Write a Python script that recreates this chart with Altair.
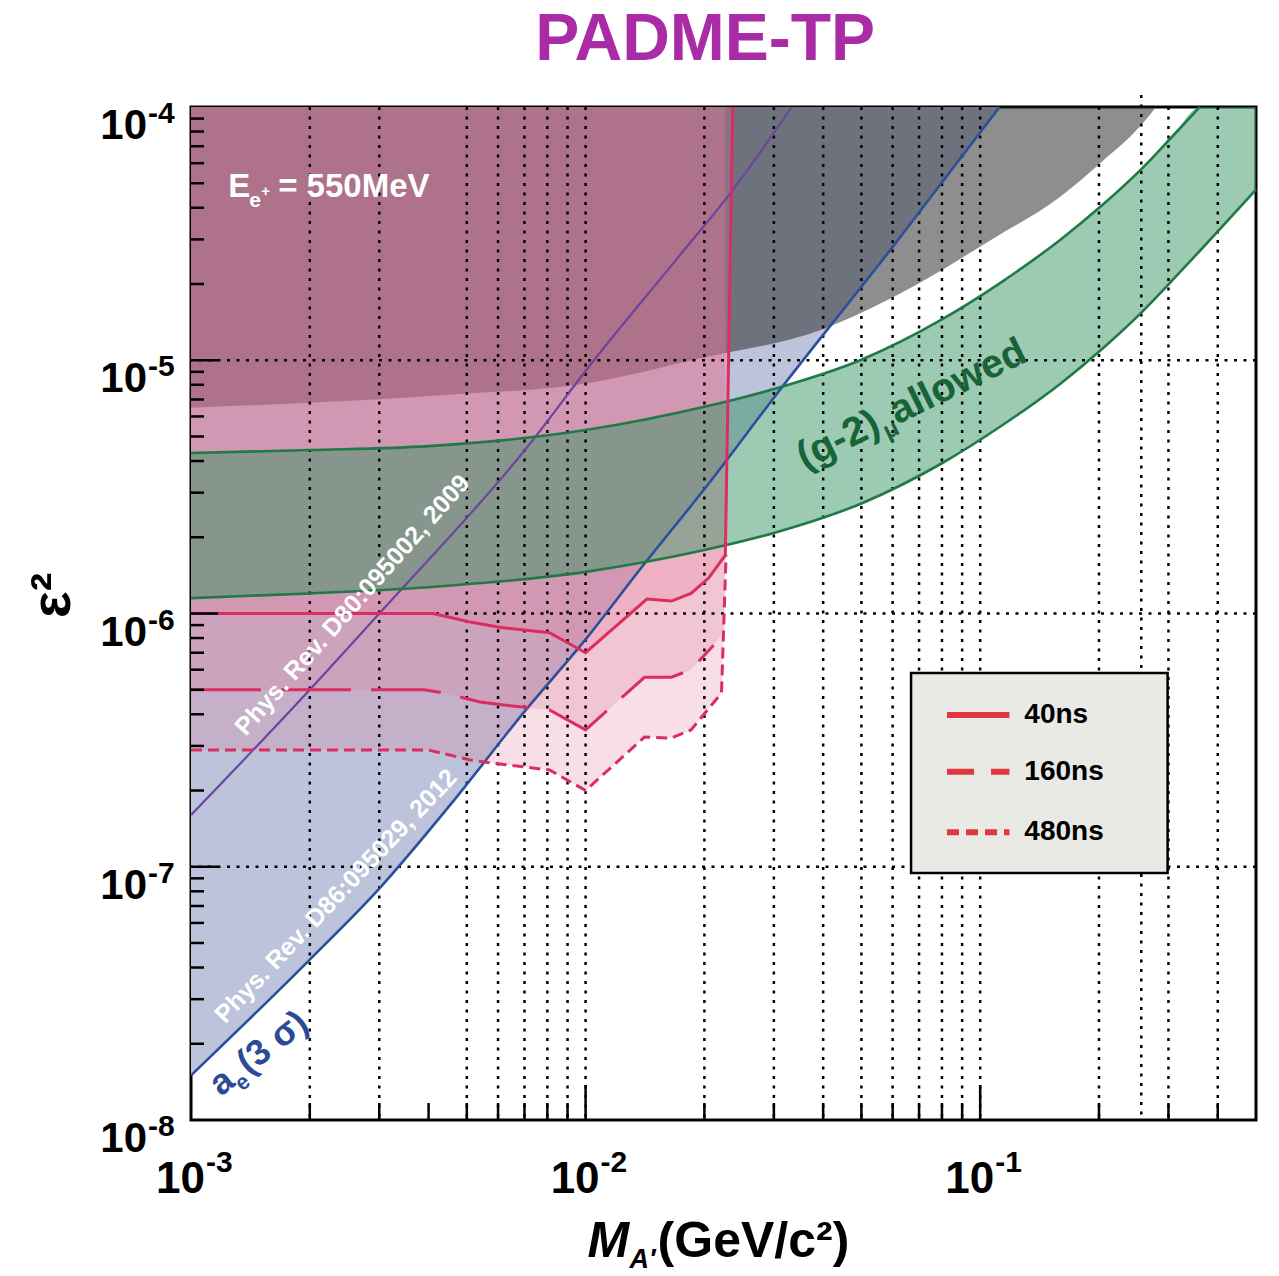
import altair as alt
import pandas as pd

FONT = "Liberation Sans"
W, H = 1065, 1013

# ---------------------------------------------------------------- data
# a_e (3 sigma) bound, Phys. Rev. D86:095029, 2012 (excluded above)
ae_mass = [1.0e-3, 2.0e-3, 3.0e-3, 4.6e-3, 7.0e-3, 1.0e-2, 1.4e-2, 2.0e-2, 3.1e-2, 6.0e-2, 0.112]
ae_eps2 = [1.5e-8, 4.3e-8, 8.2e-8, 1.8e-7, 4.1e-7, 7.9e-7, 1.55e-6, 3.1e-6, 7.6e-6, 2.8e-5, 1.0e-4]

# Phys. Rev. D80:095002, 2009
pv_mass = [1.0e-3, 2.0e-3, 3.0e-3, 7.0e-3, 1.05e-2, 1.72e-2, 2.36e-2, 3.33e-2]
pv_eps2 = [1.6e-7, 5.0e-7, 1.0e-6, 4.4e-6, 1.0e-5, 2.56e-5, 4.7e-5, 1.0e-4]

# (g-2)_mu excluded region (grey), lower edge
gm_mass = [1e-3, 4.5e-3, 1e-2, 1.97e-2, 3.96e-2, 6.34e-2, 0.107, 0.159, 0.204, 0.258, 0.279]
gm_eps2 = [6.5e-6, 7.3e-6, 8.1e-6, 1.02e-5, 1.32e-5, 1.85e-5, 3.0e-5, 4.4e-5, 6.1e-5, 8.6e-5, 1.0e-4]

# (g-2)_mu allowed band
g2_mass = [1e-3, 2e-3, 4e-3, 1e-2, 2e-2, 3e-2, 5e-2, 8e-2, 0.114, 0.16, 0.204, 0.258, 0.308, 0.36, 0.43, 0.5]
g2_upper = [4.3e-6, 4.42e-6, 4.58e-6, 5.3e-6, 6.55e-6, 7.7e-6, 1.005e-5, 1.45e-5, 2.05e-5, 3.0e-5,
            4.1e-5, 5.75e-5, 7.7e-5, 1.0e-4, 1.0e-4, 1.0e-4]
g2_lower = [1.15e-6, 1.2e-6, 1.27e-6, 1.46e-6, 1.78e-6, 2.08e-6, 2.72e-6, 3.92e-6, 5.55e-6, 8.1e-6,
            1.11e-5, 1.56e-5, 2.08e-5, 2.7e-5, 3.65e-5, 4.72e-5]
g2_upper_visible = 14  # points of the upper edge inside the frame

# PADME sensitivity, E_e+ = 550 MeV
t40_mass = [1.0e-3, 4.1e-3, 5.1e-3, 6.1e-3, 8.1e-3, 1.0e-2, 1.43e-2, 1.65e-2, 1.85e-2, 2.05e-2, 2.26e-2, 2.36e-2]
t40_eps2 = [1.0e-6, 1.0e-6, 9.25e-7, 8.8e-7, 8.4e-7, 7.0e-7, 1.14e-6, 1.12e-6, 1.2e-6, 1.38e-6, 1.7e-6, 1.0e-4]

t160_mass = [1.0e-3, 3.9e-3, 4.4e-3, 5.4e-3, 6.2e-3, 8.1e-3, 1.0e-2, 1.41e-2, 1.65e-2, 1.85e-2, 2.11e-2, 2.25e-2]
t160_eps2 = [5.0e-7, 5.0e-7, 4.85e-7, 4.47e-7, 4.35e-7, 4.16e-7, 3.47e-7, 5.6e-7, 5.6e-7, 6.0e-7, 7.5e-7, 8.6e-7]

t480_mass = [1.0e-3, 4.0e-3, 5.1e-3, 5.75e-3, 8.1e-3, 1.0e-2, 1.41e-2, 1.65e-2, 1.85e-2, 2.21e-2, 2.27e-2]
t480_eps2 = [2.89e-7, 2.89e-7, 2.64e-7, 2.57e-7, 2.41e-7, 2.0e-7, 3.25e-7, 3.22e-7, 3.47e-7, 4.85e-7, 1.7e-6]

legend_labels = ["40ns", "160ns", "480ns"]

# axis structure
x_decades = [1e-3, 1e-2, 1e-1]
x_decade_exp = ["-3", "-2", "-1"]
y_decades = [1e-4, 1e-5, 1e-6, 1e-7, 1e-8]
y_decade_exp = ["-4", "-5", "-6", "-7", "-8"]
x_minor_ticks = [0.002, 0.003, 0.004, 0.005, 0.006, 0.007, 0.008, 0.009,
                 0.02, 0.03, 0.04, 0.05, 0.06, 0.07, 0.08, 0.09, 0.2, 0.3, 0.4]
x_major_ticks = [0.01, 0.1]
y_minor_ticks = [2e-8, 3e-8, 4e-8, 5e-8, 6e-8, 7e-8, 8e-8, 9e-8,
                 2e-7, 3e-7, 4e-7, 5e-7, 6e-7, 7e-7, 8e-7, 9e-7,
                 2e-6, 3e-6, 4e-6, 5e-6, 6e-6, 7e-6, 8e-6, 9e-6,
                 2e-5, 3e-5, 4e-5, 5e-5, 6e-5, 7e-5, 8e-5, 9e-5]
y_major_ticks = [1e-7, 1e-6, 1e-5]
x_grid = [0.002, 0.003, 0.005, 0.006, 0.007, 0.008, 0.009, 0.01,
          0.02, 0.03, 0.04, 0.05, 0.06, 0.07, 0.08, 0.09, 0.1, 0.2, 0.3, 0.4]
x_grid_extra = [0.256]
y_grid = [1e-5, 1e-6, 1e-7]

# ---------------------------------------------------------------- helpers
XS = alt.Scale(type="log", domain=[1e-3, 0.5], nice=False)
YS = alt.Scale(type="log", domain=[1e-8, 1e-4], nice=False)


def xf(f):
    return alt.X(f, type="quantitative", scale=XS, axis=None)


def yf(f):
    return alt.Y(f, type="quantitative", scale=YS, axis=None)


def xd(v):
    return alt.XDatum(v, type="quantitative", scale=XS, axis=None)


def yd(v):
    return alt.YDatum(v, type="quantitative", scale=YS, axis=None)


def curve(m, e):
    return pd.DataFrame({"m": m, "e": e, "i": list(range(len(m)))})


ONE = alt.Data(values=[{}])


def note(text, m, e, **kw):
    kw.setdefault("font", FONT)
    kw.setdefault("fontWeight", "bold")
    kw.setdefault("baseline", "alphabetic")
    return alt.Chart(ONE).mark_text(text=text, **kw).encode(x=xd(m), y=yd(e))


TOP = alt.Y2Datum(1e-4)
layers = []

# ---------------------------------------------------------------- filled regions
layers.append(alt.Chart(curve(ae_mass, ae_eps2)).mark_area(
    fill="#bcc3da", interpolate="monotone", orient="vertical").encode(x=xf("m"), y=yf("e"), y2=TOP))
layers.append(alt.Chart(curve(gm_mass, gm_eps2)).mark_area(
    fill="#2a2a2a", fillOpacity=0.53, interpolate="monotone", orient="vertical").encode(
    x=xf("m"), y=yf("e"), y2=TOP))
for m, e in [(t480_mass, t480_eps2), (t160_mass, t160_eps2), (t40_mass, t40_eps2)]:
    layers.append(alt.Chart(curve(m, e)).mark_area(
        fill="#e27597", fillOpacity=0.24, orient="vertical").encode(x=xf("m"), y=yf("e"), y2=TOP))
g2 = pd.DataFrame({"m": g2_mass, "lo": g2_lower, "hi": g2_upper})
layers.append(alt.Chart(g2).mark_area(
    fill="#3b9567", fillOpacity=0.5, interpolate="monotone", orient="vertical").encode(
    x=xf("m"), y=yf("lo"), y2=alt.Y2("hi")))

# ---------------------------------------------------------------- grid
grid_style = dict(color="black", strokeDash=[3, 6.5], strokeWidth=2.5)
layers.append(alt.Chart(pd.DataFrame({"m": x_grid})).mark_rule(**grid_style).encode(x=xf("m")))
layers.append(alt.Chart(pd.DataFrame({"m": x_grid_extra})).mark_rule(**grid_style).encode(
    x=xf("m"), y=alt.value(-12), y2=alt.value(H)))
layers.append(alt.Chart(pd.DataFrame({"e": y_grid})).mark_rule(**grid_style).encode(y=yf("e")))

# ---------------------------------------------------------------- curves
layers.append(alt.Chart(curve(ae_mass, ae_eps2)).mark_line(
    color="#2c4f9c", strokeWidth=2.6, interpolate="monotone").encode(x=xf("m"), y=yf("e")))
layers.append(alt.Chart(curve(pv_mass, pv_eps2)).mark_line(
    color="#6c449e", strokeWidth=2.2, interpolate="monotone").encode(x=xf("m"), y=yf("e")))
layers.append(alt.Chart(curve(g2_mass[:g2_upper_visible], g2_upper[:g2_upper_visible])).mark_line(
    color="#1f7a45", strokeWidth=2.6, interpolate="monotone").encode(x=xf("m"), y=yf("e")))
layers.append(alt.Chart(curve(g2_mass, g2_lower)).mark_line(
    color="#1f7a45", strokeWidth=2.6, interpolate="monotone").encode(x=xf("m"), y=yf("e")))
RED = "#dc2d63"
layers.append(alt.Chart(curve(t40_mass, t40_eps2)).mark_line(color=RED, strokeWidth=3).encode(
    x=xf("m"), y=yf("e"), order=alt.Order("i:Q")))
layers.append(alt.Chart(curve(t160_mass[:-1], t160_eps2[:-1])).mark_line(
    color=RED, strokeWidth=3, strokeDash=[70, 20]).encode(x=xf("m"), y=yf("e"), order=alt.Order("i:Q")))
layers.append(alt.Chart(curve(t480_mass, t480_eps2)).mark_line(
    color=RED, strokeWidth=3, strokeDash=[11, 6]).encode(x=xf("m"), y=yf("e"), order=alt.Order("i:Q")))

# ---------------------------------------------------------------- annotations
layers.append(note("E", 1.242e-3, 4.41e-5, fontSize=33, color="white", align="left"))
layers.append(note("e", 1.242e-3, 4.41e-5, fontSize=21, color="white", align="left", dx=21, dy=10))
layers.append(note("+", 1.242e-3, 4.41e-5, fontSize=15, color="white", align="left", dx=33, dy=-1))
layers.append(note("= 550MeV", 1.242e-3, 4.41e-5, fontSize=33, color="white", align="left", dx=50))

layers.append(note("Phys. Rev. D80:095002, 2009", 2.566e-3, 1.081e-6, fontSize=25, color="white",
                   align="center", baseline="middle", angle=311.7))
layers.append(note("Phys. Rev. D86:095029, 2012", 2.33e-3, 7.66e-8, fontSize=25, color="white",
                   align="center", baseline="middle", angle=313.5))

AE = "#2a4c98"
ae_anchor = (1.19e-3, 1.233e-8)
layers.append(note("a", *ae_anchor, fontSize=36, color=AE, align="left", angle=322))
layers.append(note("e", *ae_anchor, fontSize=22, color=AE, align="left", angle=322, dx=20, dy=9))
layers.append(note("(3 σ)", *ae_anchor, fontSize=36, color=AE, align="left", angle=322, dx=35))

GT = "#196437"
g2_anchor = (3.591e-2, 3.686e-6)
layers.append(note("(g-2)", *g2_anchor, fontSize=40, color=GT, align="left", angle=334))
layers.append(note("μ", *g2_anchor, fontSize=24, color=GT, align="left", angle=334, dx=88, dy=9))
layers.append(note("allowed", *g2_anchor, fontSize=40, color=GT, align="left", angle=334, dx=103))

# ---------------------------------------------------------------- legend
layers.append(alt.Chart(ONE).mark_rect(fill="#e9e9e5", stroke="black", strokeWidth=2.5).encode(
    x=xd(0.0668), x2=alt.X2Datum(0.2985), y=yd(5.82e-7), y2=alt.Y2Datum(9.44e-8)))
legend_rows = [3.97e-7, 2.37e-7, 1.37e-7]
legend_dash = [[1, 0], [27, 17], [12, 7]]
for lab, row, dash in zip(legend_labels, legend_rows, legend_dash):
    layers.append(alt.Chart(ONE).mark_rule(color="#e0383f", strokeWidth=6, strokeDash=dash).encode(
        x=xd(0.0824), x2=alt.X2Datum(0.1186), y=yd(row)))
    layers.append(note(lab, 0.1294, row, fontSize=28, color="black", align="left", baseline="middle"))

# ---------------------------------------------------------------- ticks (inside the frame)
tick_style = dict(color="black", strokeWidth=2.5)
layers.append(alt.Chart(pd.DataFrame({"m": x_minor_ticks})).mark_rule(**tick_style).encode(
    x=xf("m"), y=alt.value(H), y2=alt.value(H - 17)))
layers.append(alt.Chart(pd.DataFrame({"m": x_major_ticks})).mark_rule(**tick_style).encode(
    x=xf("m"), y=alt.value(H), y2=alt.value(H - 35)))
layers.append(alt.Chart(pd.DataFrame({"e": y_minor_ticks})).mark_rule(**tick_style).encode(
    y=yf("e"), x=alt.value(0), x2=alt.value(13)))
layers.append(alt.Chart(pd.DataFrame({"e": y_major_ticks})).mark_rule(**tick_style).encode(
    y=yf("e"), x=alt.value(0), x2=alt.value(27)))

# ---------------------------------------------------------------- tick labels
xl = pd.DataFrame({"m": x_decades, "exp": x_decade_exp})
layers.append(alt.Chart(xl).mark_text(text="10", font=FONT, fontWeight="bold", fontSize=44,
                                      align="right", baseline="alphabetic", dx=14, dy=73).encode(
    x=xf("m"), y=yd(1e-8)))
layers.append(alt.Chart(xl).mark_text(font=FONT, fontWeight="bold", fontSize=30,
                                      align="left", baseline="alphabetic", dx=15, dy=52).encode(
    x=xf("m"), y=yd(1e-8), text=alt.Text("exp:N")))
yl = pd.DataFrame({"e": y_decades, "exp": y_decade_exp})
layers.append(alt.Chart(yl).mark_text(text="10", font=FONT, fontWeight="bold", fontSize=42,
                                      align="right", baseline="alphabetic", dx=-44, dy=32).encode(
    x=xd(1e-3), y=yf("e")))
layers.append(alt.Chart(yl).mark_text(font=FONT, fontWeight="bold", fontSize=30,
                                      align="left", baseline="alphabetic", dx=-43, dy=16).encode(
    x=xd(1e-3), y=yf("e"), text=alt.Text("exp:N")))

# ---------------------------------------------------------------- axis titles and title
layers.append(note("M", 1e-2, 1e-8, fontSize=50, fontStyle="italic", color="black", align="left", dx=2, dy=137))
layers.append(note("A′", 1e-2, 1e-8, fontSize=27, fontStyle="italic", color="black", align="left", dx=44, dy=148))
layers.append(note("(GeV/c²)", 1e-2, 1e-8, fontSize=50, color="black", align="left", dx=72, dy=137))
layers.append(note("ε²", 1e-3, 1.18e-6, fontSize=56, color="black", align="center", angle=270, dy=-121))
layers.append(note("PADME-TP", 0.0201, 1e-4, fontSize=66, color="#aa2ba6", align="center", dy=-47))

chart = alt.layer(*layers).properties(
    width=W, height=H,
    padding={"left": 191, "top": 107, "right": 23, "bottom": 156},
    autosize=alt.AutoSizeParams(type="none"),
    background="white",
).configure_view(stroke="black", strokeWidth=3)

chart.save("out.html", embed_options={"renderer": "svg", "actions": False})
